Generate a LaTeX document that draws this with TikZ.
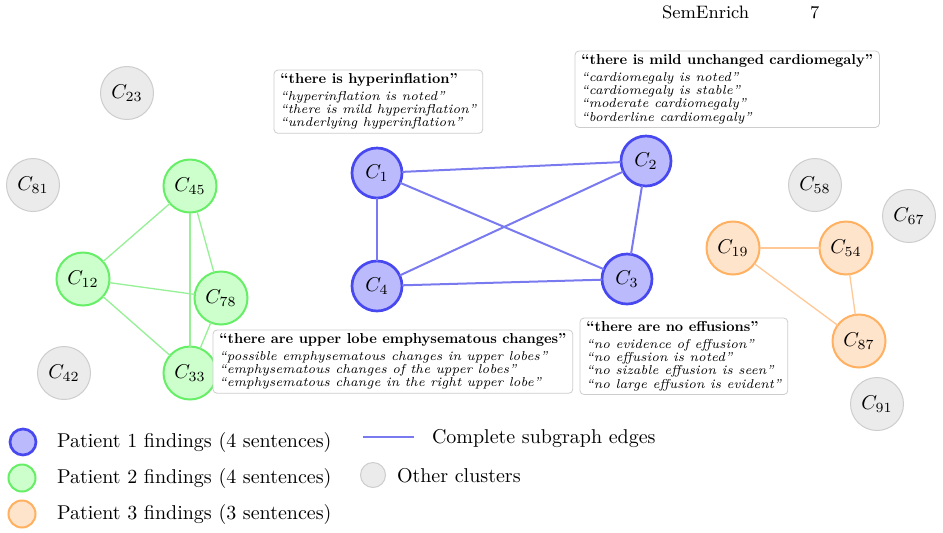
\documentclass[tikz,border=0pt]{standalone}
\definecolor{p1fill}{RGB}{186,186,252}
\definecolor{p1draw}{RGB}{72,72,240}
\definecolor{p1edge}{RGB}{122,122,240}
\definecolor{p2fill}{RGB}{204,255,204}
\definecolor{p2draw}{RGB}{102,238,102}
\definecolor{p2edge}{RGB}{150,240,150}
\definecolor{p3fill}{RGB}{255,228,204}
\definecolor{p3draw}{RGB}{255,176,96}
\definecolor{p3edge}{RGB}{255,200,150}
\definecolor{othfill}{RGB}{235,235,235}
\definecolor{othdraw}{RGB}{205,205,205}
\definecolor{boxdraw}{RGB}{205,205,205}
\font\qitfont="[lmroman7-italic.otf]" at 6.45pt
\font\qbffont="[lmroman10-bold.otf]" at 7.2pt
\newcommand{\qboxfont}{\qitfont\baselineskip=6.6pt\lineskiplimit=-20pt\relax}
\newcommand{\qhead}[1]{{\qbffont #1}}
\begin{document}
\begin{tikzpicture}[x=0.5pt,y=-0.5pt,
  every node/.style={inner sep=0pt, outer sep=0pt},
  cl/.style={circle, minimum size=26.5pt, font=\fontsize{10}{12}\selectfont},
  pA/.style={cl, minimum size=25pt, fill=p1fill, draw=p1draw, line width=1.35pt},
  pB/.style={cl, fill=p2fill, draw=p2draw, line width=1pt},
  pC/.style={cl, fill=p3fill, draw=p3draw, line width=1pt},
  oth/.style={cl, fill=othfill, draw=othdraw, line width=0.5pt},
  eA/.style={draw=p1edge, line width=1pt},
  eB/.style={draw=p2edge, line width=0.65pt},
  eC/.style={draw=p3edge, line width=0.65pt},
  qbox/.style={draw=boxdraw, fill=white, line width=0.4pt, rounded corners=2pt,
    align=left, anchor=north west,
    inner xsep=3.2pt, inner ysep=1.9pt, font=\qboxfont},
  legtext/.style={anchor=west, font=\fontsize{10}{12}\selectfont},
  hdr/.style={anchor=base west, font=\fontsize{9}{11}\selectfont}
]
\fill[white] (0,0) rectangle (943,532);
\path[use as bounding box] (0,0) rectangle (943,532);

% header
\node[hdr] (hname) at (662,18) {SemEnrich};
\node[hdr] (hpage) at (810,18) {7};

% other clusters
\node[oth] (c23) at (127,93) {$C_{23}$};
\node[oth] (c81) at (33,185) {$C_{81}$};
\node[oth] (c42) at (64,373) {$C_{42}$};
\node[oth] (c58) at (815,185) {$C_{58}$};
\node[oth] (c67) at (909,216) {$C_{67}$};
\node[oth] (c91) at (877,404) {$C_{91}$};

% patient 2
\node[pB] (c45) at (190,186) {$C_{45}$};
\node[pB] (c12) at (83,279) {$C_{12}$};
\node[pB] (c78) at (221,298) {$C_{78}$};
\node[pB] (c33) at (190,373) {$C_{33}$};
\draw[eB] (c45) -- (c12);
\draw[eB] (c45) -- (c78);
\draw[eB] (c45) -- (c33);
\draw[eB] (c12) -- (c78);
\draw[eB] (c12) -- (c33);
\draw[eB] (c78) -- (c33);

% patient 1
\node[pA] (c1) at (377,173) {$C_{1}$};
\node[pA] (c2) at (646,161) {$C_{2}$};
\node[pA] (c3) at (627,279) {$C_{3}$};
\node[pA] (c4) at (377,286) {$C_{4}$};
\draw[eA] (c1) -- (c2);
\draw[eA] (c1) -- (c4);
\draw[eA] (c1) -- (c3);
\draw[eA] (c2) -- (c4);
\draw[eA] (c2) -- (c3);
\draw[eA] (c4) -- (c3);

% patient 3
\node[pC] (c19) at (733,248) {$C_{19}$};
\node[pC] (c54) at (846,248) {$C_{54}$};
\node[pC] (c87) at (859,341) {$C_{87}$};
\draw[eC] (c19) -- (c54);
\draw[eC] (c54) -- (c87);
\draw[eC] (c19) -- (c87);

% sentence boxes
\node[qbox] (bhyp) at (274,70) {\qhead{“there is hyperinflation”}\\[1.7pt]
“hyperinflation is noted”\\
“there is mild hyperinflation”\\
“underlying hyperinflation”};
\node[qbox] (bcar) at (575,51) {\qhead{“there is mild unchanged cardiomegaly”}\\[1.7pt]
“cardiomegaly is noted”\\
“cardiomegaly is stable”\\
“moderate cardiomegaly”\\
“borderline cardiomegaly”};
\node[qbox] (bemp) at (213,330) {\qhead{“there are upper lobe emphysematous changes”}\\[1.7pt]
“possible emphysematous changes in upper lobes”\\
“emphysematous changes of the upper lobes”\\
“emphysematous change in the right upper lobe”};
\node[qbox] (beff) at (580,318) {\qhead{“there are no effusions”}\\[1.7pt]
“no evidence of effusion”\\
“no effusion is noted”\\
“no sizable effusion is seen”\\
“no large effusion is evident”};

% legend
\node[pA, minimum size=13pt] (lg1) at (23,442) {};
\node[pB, minimum size=13.5pt] (lg2) at (22,478) {};
\node[pC, minimum size=13.5pt] (lg3) at (22,514) {};
\node[legtext] (lt1) at (57,442) {Patient 1 findings (4 sentences)};
\node[legtext] (lt2) at (57,478) {Patient 2 findings (4 sentences)};
\node[legtext] (lt3) at (57,514) {Patient 3 findings (3 sentences)};
\coordinate (la) at (363,437);
\coordinate (lb) at (414,437);
\draw[eA, line width=1.3pt] (la) -- (lb);
\node[legtext] (lt4) at (432,438) {Complete subgraph edges};
\node[oth, minimum size=12.5pt] (lg5) at (373,475) {};
\node[legtext] (lt5) at (397,476) {Other clusters};
\end{tikzpicture}
\end{document}
